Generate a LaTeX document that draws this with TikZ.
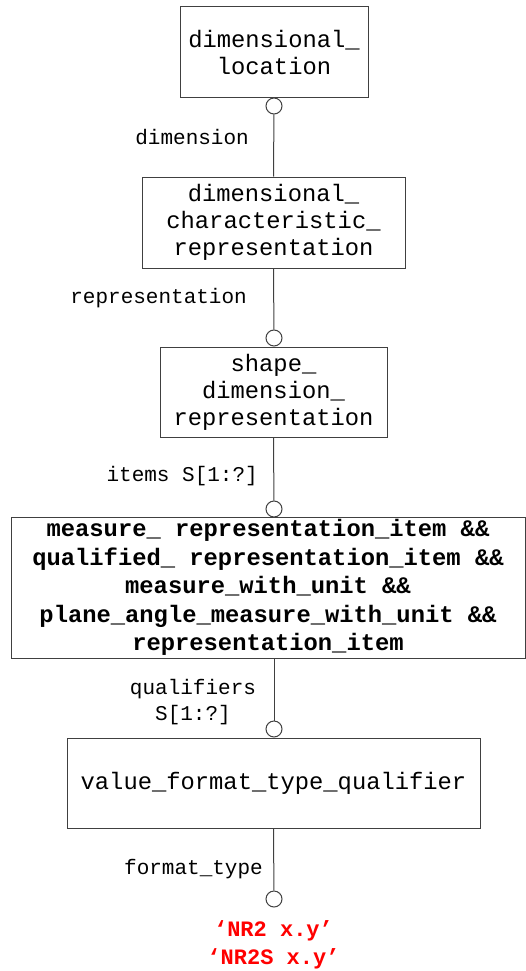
\documentclass[tikz,border=0pt]{standalone}
\usepackage{fontspec}
\setmainfont{Liberation Mono}
\usepackage{xcolor}
\usetikzlibrary{positioning,calc}
\definecolor{linegray}{HTML}{404040}
\definecolor{refred}{HTML}{FF0000}

\begin{document}
\begin{tikzpicture}[
    x=1pt, y=-1pt,
    entity/.style={rectangle, draw=linegray, line width=1pt, inner sep=0pt, align=center,
        font=\fontsize{23.8}{27}\selectfont},
    circ/.style={circle, draw=linegray, line width=1pt, fill=white, inner sep=0pt, minimum size=16pt},
    role/.style={anchor=east, inner sep=0pt, align=center, font=\fontsize{21}{26}\selectfont},
    link/.style={draw=linegray, line width=1pt}
]
    \useasboundingbox (0,0) rectangle (526,971);

    \node[entity, minimum width=188pt, minimum height=91pt] (loc) at (274,52.5) {dimensional\_\\location};
    \node[entity, minimum width=263pt, minimum height=91pt] (dcr) at (273.5,222.5) {dimensional\_\\characteristic\_\\representation};
    \node[entity, minimum width=227pt, minimum height=90pt] (sdr) at (273.5,392) {shape\_\\dimension\_\\representation};
    \node[entity, minimum width=514pt, minimum height=141pt, font=\fontsize{23.8}{28.5}\selectfont\bfseries] (mri) at (268,587.5)
        {measure\_ representation\_item \&\&\\qualified\_ representation\_item \&\&\\measure\_with\_unit \&\&\\plane\_angle\_measure\_with\_unit \&\&\\representation\_item};
    \node[entity, minimum width=413pt, minimum height=90pt] (vft) at (273.5,783) {value\_format\_type\_qualifier};

    \node[circ] (c1) at (274,106) {};
    \node[circ] (c2) at (274,338) {};
    \node[circ] (c3) at (274,509) {};
    \node[circ] (c4) at (274,729) {};
    \node[circ] (c5) at (274,899) {};

    \draw[link] (c1) -- (dcr.north);
    \draw[link] (dcr.south) -- (c2);
    \draw[link] (sdr.south) -- (c3);
    \draw[link] (c4.north |- mri.south) -- (c4);
    \draw[link] (vft.south) -- (c5);

    \node[role] (r1) at (249,137) {dimension};
    \node[role] (r2) at (247,298) {representation};
    \node[role] (r3) at (258,476) {items S[1:?]};
    \node[role, anchor=center] (r4) at (193,702) {qualifiers\\S[1:?]};
    \node[role] (r5) at (263,869) {format\_type};

    \node[align=center, inner sep=0pt, text=refred, font=\fontsize{22}{28}\selectfont\bfseries] (vals) at (273.5,945)
        {‘NR2 x.y’\\‘NR2S x.y’};
\end{tikzpicture}
\end{document}
